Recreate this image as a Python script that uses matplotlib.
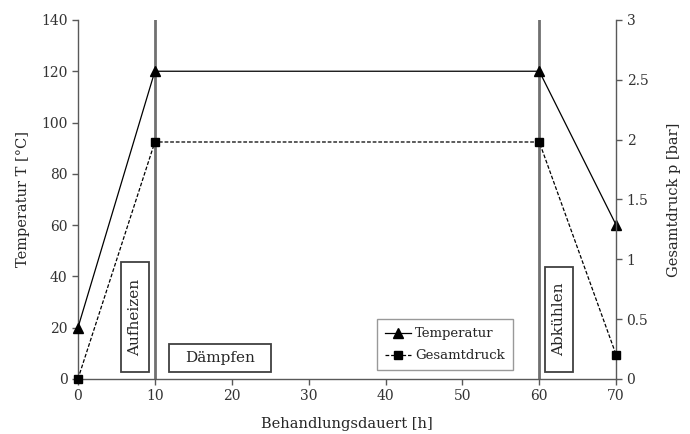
import matplotlib
matplotlib.use("Agg")
import matplotlib.pyplot as plt
from matplotlib.patches import Rectangle

time_h = [0, 10, 60, 70]
temperature = [20, 120, 120, 60]
pressure = [0, 1.98, 1.98, 0.2]
phase_lines = [10, 60]
x_ticks = [0, 10, 20, 30, 40, 50, 60, 70]
y1_ticks = [0, 20, 40, 60, 80, 100, 120, 140]
y2_ticks = [0, 0.5, 1, 1.5, 2, 2.5, 3]
y2_labels = ["0", "0.5", "1", "1.5", "2", "2.5", "3"]

plt.rcParams['font.family'] = ['DejaVu Serif']
gray = '#595959'
txt = '#262626'

fig = plt.figure(figsize=(6.9, 4.34), dpi=100)
ax = fig.add_axes([0.113, 0.127, 0.780, 0.827])
ax2 = ax.twinx()

for xv in phase_lines:
    ax.axvline(xv, color='#707070', lw=2.0, zorder=1)

l1, = ax.plot(time_h, temperature, color='black', lw=0.9, marker='^', ms=7,
              zorder=3, clip_on=False)
l2, = ax2.plot(time_h, pressure, color='black', lw=0.9, ls=(0, (3, 1.5)),
               marker='s', ms=6, zorder=3, clip_on=False)

ax.set_xlim(0, 70)
ax.set_ylim(0, 140)
ax2.set_ylim(0, 3)
ax.set_xticks(x_ticks)
ax.set_yticks(y1_ticks)
ax2.set_yticks(y2_ticks)
ax2.set_yticklabels(y2_labels)

for a in (ax, ax2):
    a.spines['top'].set_visible(False)
    for s in ('left', 'right', 'bottom'):
        a.spines[s].set_color(gray)
        a.spines[s].set_linewidth(1.0)
    a.tick_params(colors=gray, labelcolor='#333333', labelsize=10, length=4, width=1)
ax.spines['right'].set_visible(False)
ax2.spines['left'].set_visible(False)
ax2.spines['bottom'].set_visible(False)

ax.set_xlabel('Behandlungsdauert [h]', fontsize=10.5, color=txt, labelpad=10)
ax.set_ylabel('Temperatur T [°C]', fontsize=10.5, color=txt, labelpad=8)
ax2.set_ylabel('Gesamtdruck p [bar]', fontsize=10.5, color=txt, labelpad=13)

ec = '#404040'
boxes = [
    (0.080, 0.0195, 0.052, 0.306, 'Aufheizen', 90),
    (0.169, 0.0195, 0.190, 0.078, 'Dämpfen', 0),
    (0.868, 0.0195, 0.052, 0.292, 'Abkühlen', 90),
]
for x0, y0, w, h, label, rot in boxes:
    ax2.add_patch(Rectangle((x0, y0), w, h, transform=ax.transAxes, fc='white',
                            ec=ec, lw=1.3, zorder=5))
    ax2.text(x0 + w / 2, y0 + h / 2, label, rotation=rot, transform=ax.transAxes,
             ha='center', va='center', fontsize=11, color=txt, zorder=6)

ax2.set_zorder(ax.get_zorder() + 1)
ax2.patch.set_visible(False)
leg = ax2.legend([l1, l2], ['Temperatur', 'Gesamtdruck'], loc='center',
                 bbox_to_anchor=(0.682, 0.095), bbox_transform=ax.transAxes,
                 fontsize=9.5, frameon=True, fancybox=False, handlelength=2.0,
                 handletextpad=0.3, borderpad=0.6, labelspacing=0.7,
                 borderaxespad=0)
leg.get_frame().set_edgecolor('#808080')
leg.get_frame().set_linewidth(1.0)
for t in leg.get_texts():
    t.set_color(txt)

fig.savefig('out.png', dpi=100)
